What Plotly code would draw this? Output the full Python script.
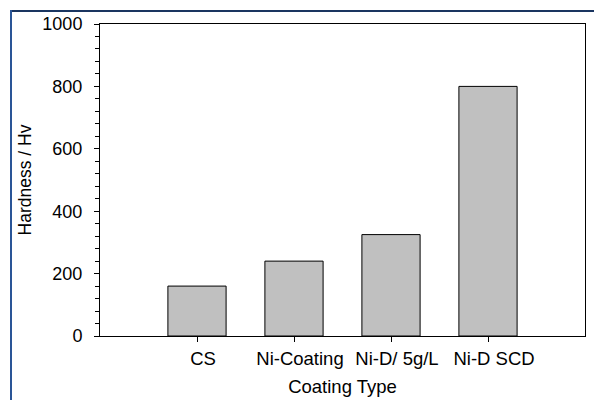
import plotly.graph_objects as go

categories = ["CS", "Ni-Coating", "Ni-D/ 5g/L", "Ni-D SCD"]
hardness = [160, 240, 325, 800]
positions = [1, 2, 3, 4]

W, H = 594, 400
L, R, T, B = 100, 9, 24, 64

fig = go.Figure(go.Bar(
    x=positions, y=hardness, width=0.6,
    marker=dict(color="#c0c0c0", line=dict(color="#000000", width=1)),
))

fam = "Liberation Sans, Arial, sans-serif"
font = dict(family=fam, size=18, color="#000000")

fig.update_layout(
    width=W, height=H,
    margin=dict(l=L, r=R, t=T, b=B),
    paper_bgcolor="white", plot_bgcolor="white",
    showlegend=False,
    font=font,
    xaxis=dict(
        range=[0, 5], tickmode="array", tickvals=positions, ticktext=categories,
        showline=True, linecolor="black", linewidth=1, mirror=True,
        ticks="outside", ticklen=5, tickcolor="black", showgrid=False, zeroline=False,
        ticklabelstandoff=1, ticklabelshift=6, automargin=False,
        title=dict(text="Coating Type", font=dict(family=fam, size=18.5), standoff=11),
        tickfont=dict(family=fam, size=18.5),
    ),
    yaxis=dict(
        range=[0, 1000], tickvals=[0, 200, 400, 600, 800, 1000],
        showline=True, linecolor="black", linewidth=1, mirror=True,
        ticks="outside", ticklen=5, tickcolor="black", showgrid=False, zeroline=False,
        ticklabelstandoff=8, automargin=False,
        minor=dict(dtick=40, ticks="outside", ticklen=4, tickcolor="black", showgrid=False),
        title=dict(text="Hardness / Hv", font=dict(family=fam, size=17.5), standoff=6),
        tickfont=dict(family=fam, size=18),
    ),
)

pw, ph = W - L - R, H - T - B
def px_x(x):
    return (x - L) / pw
def px_y(y):
    return (H - B - y) / ph

fig.add_shape(type="line", xref="paper", yref="paper",
              x0=px_x(10), x1=px_x(600), y0=px_y(11), y1=px_y(11),
              line=dict(color="#1a3560", width=2))
fig.add_shape(type="line", xref="paper", yref="paper",
              x0=px_x(11), x1=px_x(11), y0=px_y(10), y1=px_y(410),
              line=dict(color="#2a5597", width=2))

fig.write_html("out.html", config={"displayModeBar": False},
               post_script="document.body.style.margin='0';document.body.style.padding='0';")
